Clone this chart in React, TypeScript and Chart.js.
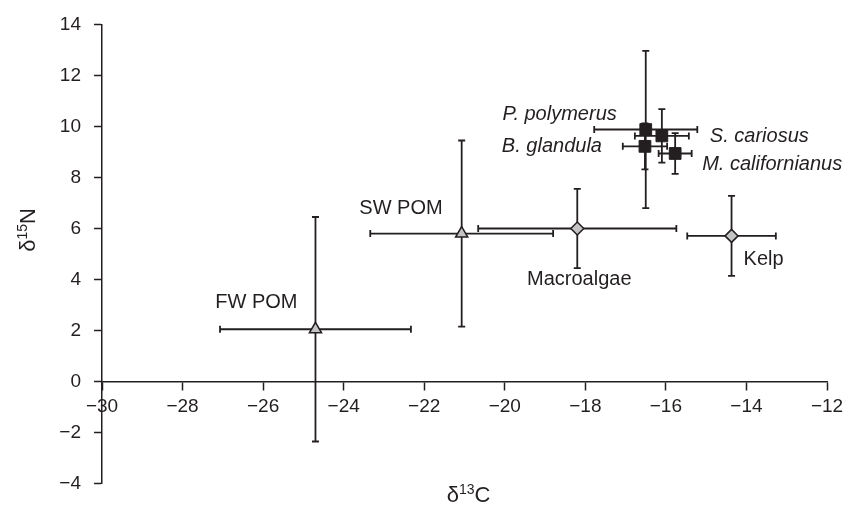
import React, { useEffect, useRef } from 'react';
import { Chart, registerables } from 'chart.js';

Chart.register(...registerables);

// ---- data ----
const pomNames = ['FW POM', 'SW POM'];
const pomC = [-24.7, -21.07];
const pomN = [2.05, 5.8];
const pomCsd = [2.37, 2.27];
const pomNsd = [4.4, 3.65];

const algaeNames = ['Macroalgae', 'Kelp'];
const algaeC = [-18.2, -14.37];
const algaeN = [6.0, 5.71];
const algaeCsd = [2.46, 1.1];
const algaeNsd = [1.55, 1.57];

const consumerNames = ['P. polymerus', 'B. glandula', 'S. cariosus', 'M. californianus'];
const consumerC = [-16.5, -16.52, -16.1, -15.77];
const consumerN = [9.88, 9.22, 9.63, 8.94];
const consumerCsd = [1.28, 0.55, 0.67, 0.41];
const consumerNsd = [3.08, 0.9, 1.05, 0.8];

const xMin = -30;
const xMax = -12;
const yMin = -4;
const yMax = 14;
const tickStep = 2;

// ---- styles ----
const INK = '#231f20';
const GREY = '#c4c4c4';
const FONT = "'Liberation Sans', Arial, Helvetica, sans-serif";

// label placement relative to the point (style only)
const labelStyle: Record<string, { dx: number; dy: number; align: CanvasTextAlign; italic?: boolean }> = {
  'FW POM': { dx: -18, dy: -27, align: 'right' },
  'SW POM': { dx: -19, dy: -25, align: 'right' },
  'Macroalgae': { dx: 2, dy: 51, align: 'center' },
  'Kelp': { dx: 12, dy: 24, align: 'left' },
  'P. polymerus': { dx: -29, dy: -15, align: 'right', italic: true },
  'B. glandula': { dx: -43, dy: 0, align: 'right', italic: true },
  'S. cariosus': { dx: 48, dy: 1, align: 'left', italic: true },
  'M. californianus': { dx: 27, dy: 11, align: 'left', italic: true },
};

const build = (names: string[], c: number[], n: number[], cs: number[], ns: number[]) =>
  names.map((name, i) => ({ x: c[i], y: n[i], xe: cs[i], ye: ns[i], name }));

const fmt = (v: number) => (v < 0 ? '\u2212' + Math.abs(v) : String(v));

const errorBars = {
  id: 'errorBars',
  beforeDatasetsDraw(chart: any) {
    const { ctx } = chart;
    const xs = chart.scales.x;
    const ys = chart.scales.y;
    const cap = 3.5;
    ctx.save();
    ctx.strokeStyle = INK;
    ctx.lineWidth = 1.8;
    chart.data.datasets.forEach((ds: any) => {
      ds.data.forEach((p: any) => {
        const cx = xs.getPixelForValue(p.x);
        const cy = ys.getPixelForValue(p.y);
        const xl = xs.getPixelForValue(p.x - p.xe);
        const xr = xs.getPixelForValue(p.x + p.xe);
        const yt = ys.getPixelForValue(p.y + p.ye);
        const yb = ys.getPixelForValue(p.y - p.ye);
        ctx.beginPath();
        ctx.moveTo(xl, cy);
        ctx.lineTo(xr, cy);
        ctx.moveTo(xl, cy - cap);
        ctx.lineTo(xl, cy + cap);
        ctx.moveTo(xr, cy - cap);
        ctx.lineTo(xr, cy + cap);
        ctx.moveTo(cx, yt);
        ctx.lineTo(cx, yb);
        ctx.moveTo(cx - cap, yt);
        ctx.lineTo(cx + cap, yt);
        ctx.moveTo(cx - cap, yb);
        ctx.lineTo(cx + cap, yb);
        ctx.stroke();
      });
    });
    ctx.restore();
  },
};

const pointLabels = {
  id: 'pointLabels',
  afterDatasetsDraw(chart: any) {
    const { ctx } = chart;
    const xs = chart.scales.x;
    const ys = chart.scales.y;
    ctx.save();
    ctx.fillStyle = INK;
    ctx.textBaseline = 'middle';
    chart.data.datasets.forEach((ds: any) => {
      ds.data.forEach((p: any) => {
        const st = labelStyle[p.name];
        if (!st) return;
        ctx.font = `${st.italic ? 'italic ' : ''}20px ${FONT}`;
        ctx.textAlign = st.align;
        ctx.fillText(p.name, xs.getPixelForValue(p.x) + st.dx, ys.getPixelForValue(p.y) + st.dy);
      });
    });
    ctx.restore();
  },
};

function drawIsotope(ctx: CanvasRenderingContext2D, cx: number, cy: number, sym: string, mass: string, el: string) {
  const big = `22px ${FONT}`;
  const small = `14px ${FONT}`;
  ctx.font = big;
  const w1 = ctx.measureText(sym).width;
  const w3 = ctx.measureText(el).width;
  ctx.font = small;
  const w2 = ctx.measureText(mass).width;
  const total = w1 + w2 + w3;
  let x = cx - total / 2;
  ctx.textAlign = 'left';
  ctx.textBaseline = 'alphabetic';
  const base = cy + 8;
  ctx.font = big;
  ctx.fillText(sym, x, base);
  x += w1;
  ctx.font = small;
  ctx.fillText(mass, x, base - 8);
  x += w2;
  ctx.font = big;
  ctx.fillText(el, x, base);
}

const axisTitles = {
  id: 'axisTitles',
  afterDraw(chart: any) {
    const { ctx } = chart;
    const xs = chart.scales.x;
    ctx.save();
    ctx.fillStyle = INK;
    drawIsotope(ctx, (xs.left + xs.right) / 2 + 4, 494, '\u03b4', '13', 'C');
    ctx.restore();
    ctx.save();
    ctx.fillStyle = INK;
    ctx.translate(27, 230);
    ctx.rotate(-Math.PI / 2);
    drawIsotope(ctx, 0, 0, '\u03b4', '15', 'N');
    ctx.restore();
  },
};

export default function App() {
  const ref = useRef<HTMLCanvasElement | null>(null);

  useEffect(() => {
    if (!ref.current) return;
    Chart.defaults.font.family = FONT;
    Chart.defaults.color = INK;
    const chart = new Chart(ref.current, {
      type: 'scatter',
      data: {
        datasets: [
          {
            label: 'POM',
            data: build(pomNames, pomC, pomN, pomCsd, pomNsd) as any,
            pointStyle: 'triangle',
            pointRadius: 7,
            backgroundColor: GREY,
            borderColor: INK,
            borderWidth: 1.5,
          },
          {
            label: 'Algae',
            data: build(algaeNames, algaeC, algaeN, algaeCsd, algaeNsd) as any,
            pointStyle: 'rectRot',
            pointRadius: 6.5,
            backgroundColor: GREY,
            borderColor: INK,
            borderWidth: 1.5,
          },
          {
            label: 'Consumers',
            data: build(consumerNames, consumerC, consumerN, consumerCsd, consumerNsd) as any,
            pointStyle: 'rect',
            pointRadius: 8.3,
            backgroundColor: INK,
            borderColor: INK,
            borderWidth: 1,
          },
        ],
      },
      options: {
        responsive: false,
        animation: false,
        events: [],
        layout: { padding: { top: 15, right: 34, bottom: 22, left: 0 } },
        plugins: { legend: { display: false }, tooltip: { enabled: false }, title: { display: false } },
        scales: {
          x: {
            type: 'linear',
            min: xMin,
            max: xMax,
            position: { y: 0 } as any,
            afterFit: (s: any) => {
              s.height = 0;
            },
            border: { display: true, color: INK, width: 1.5 },
            grid: { drawOnChartArea: false, drawTicks: true, tickLength: 8, tickColor: INK, tickWidth: 1.5 },
            ticks: {
              stepSize: tickStep,
              autoSkip: false,
              maxRotation: 0,
              padding: 6,
              color: INK,
              font: { size: 19 },
              callback: (v: any) => fmt(Number(v)),
            },
          },
          y: {
            type: 'linear',
            min: yMin,
            max: yMax,
            position: 'left',
            afterFit: (s: any) => {
              s.width = 102;
            },
            border: { display: true, color: INK, width: 1.5 },
            grid: { drawOnChartArea: false, drawTicks: true, tickLength: 8, tickColor: INK, tickWidth: 1.5 },
            ticks: {
              stepSize: tickStep,
              autoSkip: false,
              padding: 13,
              color: INK,
              font: { size: 19 },
              callback: (v: any) => fmt(Number(v)),
            },
          },
        },
      },
      plugins: [errorBars, pointLabels, axisTitles],
    });
    return () => chart.destroy();
  }, []);

  return (
    <div style={{ position: 'absolute', left: 0, top: 0, width: 861, height: 508, background: '#fff' }}>
      <canvas ref={ref} width={861} height={508} style={{ display: 'block' }} />
    </div>
  );
}
